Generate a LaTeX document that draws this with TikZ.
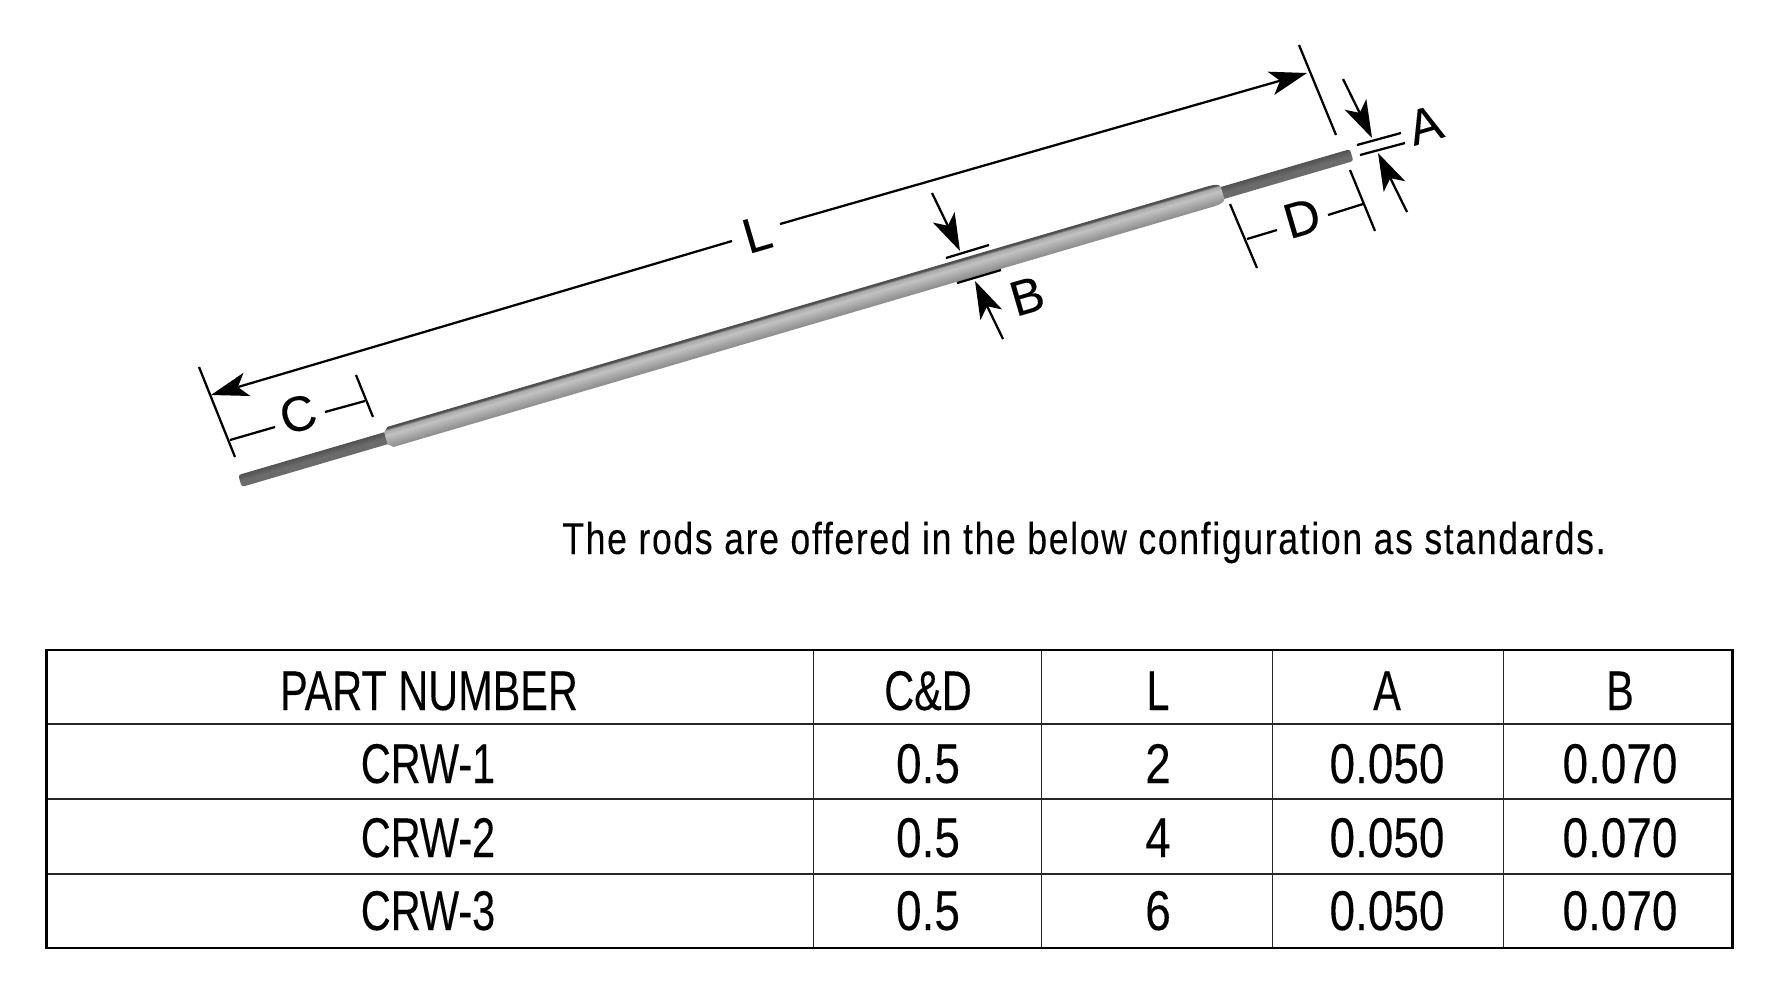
\documentclass[tikz,border=0pt]{standalone}
\usepackage{fontspec}
\setmainfont[FakeStretch=0.74, FakeBold=0.15]{Liberation Sans}
\newfontfamily\dimfont[FakeBold=0.2]{Liberation Sans}
\newfontfamily\numfont[FakeStretch=0.82, FakeBold=0.1]{Liberation Sans}
\newfontfamily\notefont[FakeStretch=0.795, LetterSpace=3.8, FakeBold=0.1]{Liberation Sans}
\usetikzlibrary{arrows.meta}
\definecolor{rodlow}{HTML}{8A8A8A}
\definecolor{rodmid}{HTML}{9E9E9E}
\definecolor{rodlight}{HTML}{C2C2C2}
\definecolor{rodupper}{HTML}{A8A8A8}
\definecolor{rodedge}{HTML}{505050}
\pgfdeclareverticalshading{rodbody}{100bp}{
    color(0bp)=(rodlow); color(25bp)=(rodlow); color(36bp)=(rodmid);
    color(56bp)=(rodlight); color(67bp)=(rodupper); color(72bp)=(rodedge);
    color(75bp)=(rodedge); color(100bp)=(rodedge)}
\begin{document}
\begin{tikzpicture}
    [
    x=0.75pt,
    y=-0.75pt,
    dimline/.style={draw=black, line width=1.7pt},
    dimarrow/.style={dimline, -{Stealth[length=28pt, width=18pt, inset=7pt]}},
    dimlabel/.style={font=\dimfont\fontsize{37}{37}\selectfont, rotate=16.3, inner sep=0pt},
    cell/.style={anchor=base, inner sep=0pt, font=\fontsize{42}{42}\selectfont},
    numcell/.style={cell, font=\numfont\fontsize{42}{42}\selectfont},
    caption/.style={anchor=base, inner sep=0pt, font=\notefont\fontsize{33.5}{34}\selectfont},
    outer/.style={draw=black, line width=1.7pt},
    inner/.style={draw=black!85, line width=1.2pt}
    ]
    \useasboundingbox (0,0) rectangle (1773,990);

% Rod
    \coordinate (rodstart) at (240,481);
    \begin{scope}[transform canvas={shift={(rodstart)}, rotate=16.34}]
        \shade[top color=black!68, bottom color=black!58, middle color=black!58, rounded corners=2pt]
            (0,-6.2) rectangle (1158.5,6.2);
        \shade[shading=rodbody]
            (152,-6.2) -- (157,-10.5) -- (1012,-10.5) .. controls (1019,-10.5) and (1024,-9) .. (1024,-6.2)
            -- (1024,6.2) .. controls (1024,9) and (1019,10.5) .. (1012,10.5) -- (157,10.5) -- (152,6.2) -- cycle;
    \end{scope}

% Overall length L
    \coordinate (lleft1) at (199,367);
    \coordinate (lleft2) at (235,457);
    \coordinate (lright1) at (1299,45);
    \coordinate (lright2) at (1336,135);
    \coordinate (ltipleft) at (211,395);
    \coordinate (ltipright) at (1307,73);
    \coordinate (lgapleft) at (732,241);
    \coordinate (lgapright) at (780,224);
    \node[dimlabel] (llabel) at (757,234) {L};
    \draw[dimline] (lleft1) -- (lleft2);
    \draw[dimline] (lright1) -- (lright2);
    \draw[dimarrow] (lgapleft) -- (ltipleft);
    \draw[dimarrow] (lgapright) -- (ltipright);

% End diameter A
    \coordinate (aup1) at (1343,79);
    \coordinate (aup2) at (1372,138);
    \coordinate (alow1) at (1407,212);
    \coordinate (alow2) at (1378,153);
    \coordinate (atop1) at (1357,145);
    \coordinate (atop2) at (1401,133);
    \coordinate (abot1) at (1360,155);
    \coordinate (abot2) at (1405,143);
    \node[dimlabel] (alabel) at (1425,125) {A};
    \draw[dimarrow] (aup1) -- (aup2);
    \draw[dimarrow] (alow1) -- (alow2);
    \draw[dimline] (atop1) -- (atop2);
    \draw[dimline] (abot1) -- (abot2);

% Body diameter B
    \coordinate (bup1) at (932,193);
    \coordinate (bup2) at (960,251);
    \coordinate (blow1) at (1003,339);
    \coordinate (blow2) at (975,281);
    \coordinate (btop1) at (946,258);
    \coordinate (btop2) at (989,245);
    \coordinate (bbot1) at (957,283);
    \coordinate (bbot2) at (1001,270);
    \node[dimlabel] (blabel) at (1027,296) {B};
    \draw[dimarrow] (bup1) -- (bup2);
    \draw[dimarrow] (blow1) -- (blow2);
    \draw[dimline] (btop1) -- (btop2);
    \draw[dimline] (bbot1) -- (bbot2);

% Left end C
    \coordinate (cright1) at (356,375);
    \coordinate (cright2) at (373,417);
    \coordinate (cdimleft1) at (230,440);
    \coordinate (cdimleft2) at (275,427);
    \coordinate (cdimright1) at (325,412);
    \coordinate (cdimright2) at (365,401);
    \node[dimlabel] (clabel) at (298,414) {C};
    \draw[dimline] (cright1) -- (cright2);
    \draw[dimline] (cdimleft1) -- (cdimleft2);
    \draw[dimline] (cdimright1) -- (cdimright2);

% Right end D
    \coordinate (dleft1) at (1230,204);
    \coordinate (dleft2) at (1257,268);
    \coordinate (dright1) at (1350,170);
    \coordinate (dright2) at (1375,231);
    \coordinate (ddimleft1) at (1247,239);
    \coordinate (ddimleft2) at (1277,230);
    \coordinate (ddimright1) at (1328,215);
    \coordinate (ddimright2) at (1363,204);
    \node[dimlabel] (dlabel) at (1302,218) {D};
    \draw[dimline] (dleft1) -- (dleft2);
    \draw[dimline] (dright1) -- (dright2);
    \draw[dimline] (ddimleft1) -- (ddimleft2);
    \draw[dimline] (ddimright1) -- (ddimright2);

% Caption
    \node[caption] (note) at (1084,554) {The rods are offered in the below configuration as standards.};

% Table
    \draw[inner] (46.5,724) -- (1732.5,724);
    \draw[inner] (46.5,799) -- (1732.5,799);
    \draw[inner] (46.5,874) -- (1732.5,874);
    \draw[inner] (813.5,650) -- (813.5,948);
    \draw[inner] (1041.5,650) -- (1041.5,948);
    \draw[inner] (1272.5,650) -- (1272.5,948);
    \draw[inner] (1503.5,650) -- (1503.5,948);
    \draw[outer] (46.5,650) rectangle (1732.5,948);

    \node[cell] (head1) at (429,710) {PART NUMBER};
    \node[cell] (head2) at (928,710) {C\&D};
    \node[cell] (head3) at (1158,710) {L};
    \node[cell] (head4) at (1387,710) {A};
    \node[cell] (head5) at (1620,710) {B};

    \node[cell] (crw1) at (428,783) {CRW-1};
    \node[numcell] (crw1cd) at (928,783) {0.5};
    \node[numcell] (crw1l) at (1158,783) {2};
    \node[numcell] (crw1a) at (1387,783) {0.050};
    \node[numcell] (crw1b) at (1620,783) {0.070};

    \node[cell] (crw2) at (428,857) {CRW-2};
    \node[numcell] (crw2cd) at (928,857) {0.5};
    \node[numcell] (crw2l) at (1158,857) {4};
    \node[numcell] (crw2a) at (1387,857) {0.050};
    \node[numcell] (crw2b) at (1620,857) {0.070};

    \node[cell] (crw3) at (428,930) {CRW-3};
    \node[numcell] (crw3cd) at (928,930) {0.5};
    \node[numcell] (crw3l) at (1158,930) {6};
    \node[numcell] (crw3a) at (1387,930) {0.050};
    \node[numcell] (crw3b) at (1620,930) {0.070};

\end{tikzpicture}
\end{document}
